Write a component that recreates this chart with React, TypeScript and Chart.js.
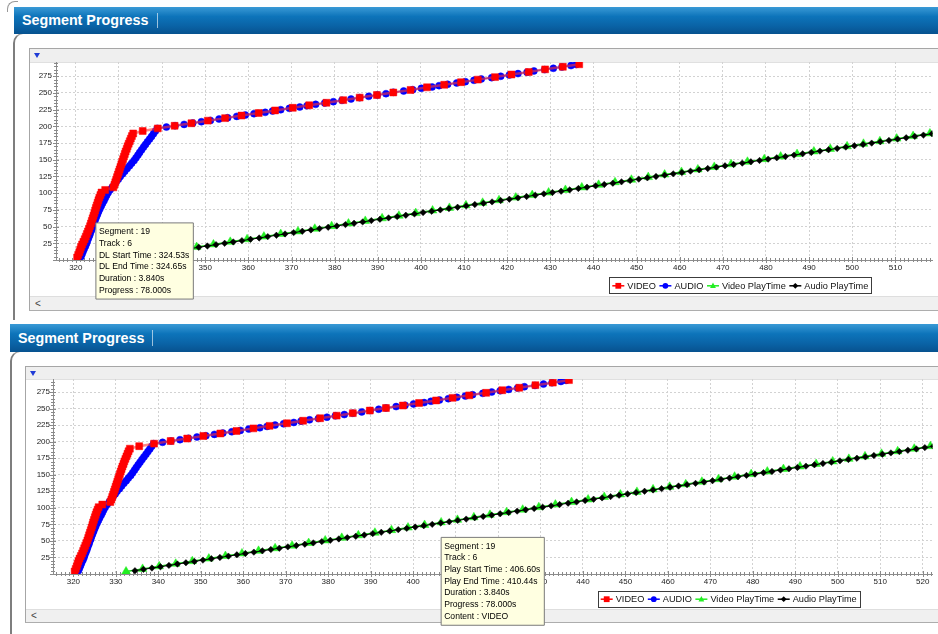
import React, { useEffect, useRef } from 'react';
import { Chart, registerables, Tooltip } from 'chart.js';

Chart.register(...registerables);

// ---------------- data ----------------
const SERIES_LABELS = ['VIDEO', 'AUDIO', 'Video PlayTime', 'Audio PlayTime'];

// video segment progress (s) per segment index
const VIDEO_PROGRESS = [
  3.8, 7.7, 11.6, 15.5, 19.4, 23.3, 27.2, 31.1, 35.0, 38.9, 42.8, 46.8, 50.7, 54.6, 58.5, 62.4, 66.3, 70.2, 74.1, 78.0,
  81.8, 85.7, 89.5, 93.4, 97.2, 101.0, 104.9, 108.7, 112.6, 116.4, 120.2, 124.1, 127.9, 131.8, 135.6, 139.4, 143.3,
  147.1, 151.0, 154.8, 158.6, 162.5, 166.3, 170.2, 174.0, 177.8, 181.7, 185.5, 189.4, 193.2, 197.0,
  200.9, 204.7, 208.6, 212.4, 216.2, 220.1, 223.9, 227.8, 231.6, 235.4, 239.3, 243.1, 247.0, 250.8, 254.6, 258.5,
  262.3, 266.2, 270.0, 273.8, 277.7, 281.5, 285.4, 289.2, 293.0,
];
// video download (end) time per segment
const VIDEO_DL_TIME = [
  320.3, 320.55, 320.8, 321.0, 321.2, 321.45, 321.75, 322.05, 322.3, 322.55, 322.8, 323.05, 323.3, 323.5, 323.7, 323.9,
  324.1, 324.3, 324.48, 324.65,
  324.85, 325.05, 325.25, 325.45, 325.7, 325.95, 326.8, 328.7, 328.95, 329.15, 329.35, 329.55, 329.75, 329.95, 330.15,
  330.35, 330.55, 330.75, 330.95, 331.15, 331.35, 331.55, 331.8, 332.0, 332.25, 332.5, 332.75, 333.0, 333.3, 335.5, 339.0,
  342.9, 346.8, 350.6, 354.6, 358.4, 362.4, 366.2, 370.3, 374.1, 378.1, 382.0, 385.8, 389.8, 393.6, 397.6, 401.4,
  405.4, 409.3, 413.2, 417.2, 421.0, 425.0, 428.8, 432.9, 436.7,
];
// video play start time per segment (progress as above)
const VIDEO_PLAY_TIME = [
  332.4, 336.3, 340.2, 344.1, 348.0, 351.9, 355.8, 359.7, 363.6, 367.5, 371.5, 375.4, 379.3, 383.2, 387.1, 391.0,
  394.9, 398.8, 402.7, 406.6,
  410.44, 414.3, 418.1, 422.0, 425.8, 429.6, 433.5, 437.3, 441.2, 445.0, 448.8, 452.7, 456.5, 460.4, 464.2, 468.0,
  471.9, 475.7, 479.6, 483.4, 487.2, 491.1, 494.9, 498.8, 502.6, 506.4, 510.3, 514.1, 518.0, 521.8, 525.6,
];
// audio download progress / time
const AUDIO_DL_PROGRESS = [
  5, 9, 13, 17, 21, 25, 29, 33, 37, 41, 45, 49, 53, 57, 61, 65, 69, 73, 77, 81, 85, 89, 93, 97, 101, 105, 109, 113,
  117, 121, 125, 129, 133, 137, 141, 145, 149, 153, 157, 161, 165, 169, 173, 177, 181, 185, 189, 193, 197,
  199, 201, 203, 205, 207, 209, 211, 213, 215, 217, 219, 221, 223, 225, 227, 229, 231, 233, 235, 237, 239, 241, 243,
  245, 247, 249, 251, 253, 255, 257, 259, 261, 263, 265, 267, 269, 271, 273, 275, 277, 279, 281, 283, 285, 287, 289,
  291, 292.6,
];
const AUDIO_DL_TIME = [
  321.2, 321.45, 321.7, 321.95, 322.25, 322.5, 322.7, 322.95, 323.2, 323.4, 323.65, 323.85, 324.1, 324.3, 324.55,
  324.8, 325.05, 325.3, 325.6, 325.9, 326.2, 326.55, 326.85, 327.15, 327.5, 327.95, 328.45, 328.9, 329.35, 329.85,
  330.3, 330.85, 331.35, 331.9, 332.45, 332.95, 333.5, 333.95, 334.4, 334.8, 335.25, 335.7, 336.15, 336.6, 337.1,
  337.55, 338.0, 338.45, 338.9,
  341.0, 343.0, 345.1, 347.1, 349.1, 351.2, 353.2, 355.2, 357.3, 359.3, 361.3, 363.9, 365.6, 367.5, 369.5, 371.9,
  373.6, 375.6, 377.7, 379.7, 381.7, 383.8, 385.8, 387.9, 389.9, 391.9, 393.6, 396.0, 398.1, 400.1, 402.6, 404.2,
  406.2, 408.3, 410.3, 412.3, 414.0, 416.4, 418.5, 420.5, 422.5, 424.6, 426.2, 428.7, 430.7, 432.7, 434.8, 436.0,
];
// audio play progress / time
const AUDIO_PLAY_PROGRESS = [
  5, 7, 9, 11, 13, 15, 17, 19, 21, 23, 25, 27, 29, 31, 33, 35, 37, 39, 41, 43, 45, 47, 49, 51, 53, 55, 57, 59, 61, 63,
  65, 67, 69, 71, 73, 75, 77, 79, 81, 83, 85, 87, 89, 91, 93, 95, 97, 99, 101, 103, 105, 107, 109, 111, 113, 115, 117,
  119, 121, 123, 125, 127, 129, 131, 133, 135, 137, 139, 141, 143, 145, 147, 149, 151, 153, 155, 157, 159, 161, 163,
  165, 167, 169, 171, 173, 175, 177, 179, 181, 183, 185, 187, 189, 191, 193, 195,
];
const AUDIO_PLAY_TIME = [
  334.5, 336.5, 338.5, 340.5, 342.5, 344.5, 346.5, 348.5, 350.5, 352.5, 354.5, 356.5, 358.5, 360.5, 362.5, 364.5,
  366.5, 368.5, 370.5, 372.5, 374.5, 376.5, 378.5, 380.5, 382.5, 384.5, 386.5, 388.5, 390.5, 392.5, 394.5, 396.5,
  398.5, 400.5, 402.5, 404.5, 406.5, 408.5, 410.5, 412.5, 414.5, 416.5, 418.5, 420.5, 422.5, 424.5, 426.5, 428.5,
  430.5, 432.5, 434.5, 436.5, 438.5, 440.5, 442.5, 444.5, 446.5, 448.5, 450.5, 452.5, 454.5, 456.5, 458.5, 460.5,
  462.5, 464.5, 466.5, 468.5, 470.5, 472.5, 474.5, 476.5, 478.5, 480.5, 482.5, 484.5, 486.5, 488.5, 490.5, 492.5,
  494.5, 496.5, 498.5, 500.5, 502.5, 504.5, 506.5, 508.5, 510.5, 512.5, 514.5, 516.5, 518.5, 520.5, 522.5, 524.5,
];

const X_TICK_STEP = 10;
const Y_TICK_STEP = 25;

// hovered segment (tooltip)
const HOVER_INDEX = 19;
const HOVER_TRACK = 6;
const HOVER_DL_START = 324.53;
const SEGMENT_DURATION = 3.84;

const TIP_DL = [
  `Segment : ${HOVER_INDEX}`,
  `Track : ${HOVER_TRACK}`,
  `DL Start Time : ${HOVER_DL_START.toFixed(2)}s`,
  `DL End Time : ${VIDEO_DL_TIME[HOVER_INDEX].toFixed(2)}s`,
  `Duration : ${SEGMENT_DURATION.toFixed(3)}s`,
  `Progress : ${VIDEO_PROGRESS[HOVER_INDEX].toFixed(3)}s`,
];
const TIP_PLAY = [
  `Segment : ${HOVER_INDEX}`,
  `Track : ${HOVER_TRACK}`,
  `Play Start Time : ${VIDEO_PLAY_TIME[HOVER_INDEX].toFixed(2)}s`,
  `Play End Time : ${(VIDEO_PLAY_TIME[HOVER_INDEX] + SEGMENT_DURATION).toFixed(2)}s`,
  `Duration : ${SEGMENT_DURATION.toFixed(3)}s`,
  `Progress : ${VIDEO_PROGRESS[HOVER_INDEX].toFixed(3)}s`,
  `Content : VIDEO`,
];

// ---------------- styles ----------------
const FONT = '"Liberation Sans", Arial, sans-serif';
const SERIES_COLORS = ['#ff0000', '#0000ff', '#22ee22', '#000000'];
const SERIES_STYLES = ['rect', 'circle', 'triangle', 'rectRot'];

(Tooltip as any).positioners.belowPoint = function (items: any[]) {
  if (!items.length) return false;
  const el = items[0].element;
  return { x: el.x, y: el.y + 15 };
};

function drawMarker(ctx: CanvasRenderingContext2D, style: string, x: number, y: number, r: number, color: string) {
  ctx.fillStyle = color;
  ctx.beginPath();
  if (style === 'rect') ctx.rect(x - r, y - r, 2 * r, 2 * r);
  else if (style === 'circle') ctx.arc(x, y, r, 0, Math.PI * 2);
  else if (style === 'triangle') {
    ctx.moveTo(x, y - r * 1.1);
    ctx.lineTo(x + r, y + r * 0.8);
    ctx.lineTo(x - r, y + r * 0.8);
    ctx.closePath();
  } else {
    ctx.moveTo(x, y - r);
    ctx.lineTo(x + r, y);
    ctx.lineTo(x, y + r);
    ctx.lineTo(x - r, y);
    ctx.closePath();
  }
  ctx.fill();
}

const boxLegendPlugin = {
  id: 'boxLegend',
  afterDatasetsDraw(chart: any, _args: any, opts: any) {
    const { ctx } = chart;
    const { left, top, height } = opts;
    ctx.save();
    ctx.font = `9.2px ${FONT}`;
    const widths = SERIES_LABELS.map((t) => ctx.measureText(t).width);
    let w = 3;
    widths.forEach((tw: number) => (w += 15 + tw + 3.5));
    ctx.fillStyle = '#ffffff';
    ctx.fillRect(left, top, w, height);
    ctx.strokeStyle = '#3c3c3c';
    ctx.lineWidth = 1;
    ctx.strokeRect(Math.round(left) + 0.5, Math.round(top) + 0.5, Math.round(w) - 1, height - 1);
    const cy = top + height / 2;
    let x = left + 3;
    SERIES_LABELS.forEach((label, i) => {
      ctx.strokeStyle = SERIES_COLORS[i];
      ctx.lineWidth = 1.5;
      ctx.beginPath();
      ctx.moveTo(x, cy);
      ctx.lineTo(x + 12, cy);
      ctx.stroke();
      drawMarker(ctx, SERIES_STYLES[i], x + 6, cy, 2.9, SERIES_COLORS[i]);
      ctx.fillStyle = '#111';
      ctx.textBaseline = 'middle';
      ctx.textAlign = 'left';
      ctx.fillText(label, x + 15, cy + 0.5);
      x += 15 + widths[i] + 3.5;
    });
    ctx.restore();
  },
};

const axisTicksPlugin = {
  id: 'axisTicks',
  beforeDatasetsDraw(chart: any) {
    const { ctx, chartArea } = chart;
    const xs = chart.scales.x;
    const ys = chart.scales.y;
    ctx.save();
    ctx.strokeStyle = '#8a8a8a';
    ctx.lineWidth = 1;
    ctx.beginPath();
    for (let v = Math.ceil(xs.min); v <= xs.max; v += 1) {
      const px = Math.round(xs.getPixelForValue(v)) + 0.5;
      const len = v % X_TICK_STEP === 0 ? 3 : 2;
      ctx.moveTo(px, chartArea.bottom - len);
      ctx.lineTo(px, chartArea.bottom + len);
    }
    for (let v = 0; v <= ys.max; v += 5) {
      const py = Math.round(ys.getPixelForValue(v)) + 0.5;
      const len = v % Y_TICK_STEP === 0 ? 3 : 2;
      ctx.moveTo(chartArea.left - len, py);
      ctx.lineTo(chartArea.left + len, py);
    }
    ctx.stroke();
    ctx.restore();
  },
};

type PanelCfg = {
  left: number; top: number; width: number; height: number;
  yAxisWidth: number; xAxisHeight: number; padTop: number;
  xMin: number; xMax: number; yMax: number; yLabelPad: number;
  legendLeft: number; legendTop: number;
  hoverDataset: number; tipLines: string[];
};

const PANELS: PanelCfg[] = [
  {
    left: 30, top: 49, width: 908, height: 261, yAxisWidth: 26, xAxisHeight: 50, padTop: 13,
    xMin: 315.4, xMax: 518.6, yMax: 296.4, yLabelPad: 4, legendLeft: 579.3, legendTop: 228.3,
    hoverDataset: 0, tipLines: TIP_DL,
  },
  {
    left: 26, top: 367, width: 912, height: 267, yAxisWidth: 27, xAxisHeight: 60, padTop: 12,
    xMin: 315.2, xMax: 522.3, yMax: 294.7, yLabelPad: 3, legendLeft: 571.7, legendTop: 223.7,
    hoverDataset: 2, tipLines: TIP_PLAY,
  },
];

function pairs(xs: number[], ys: number[]) {
  const n = Math.min(xs.length, ys.length);
  const out: { x: number; y: number }[] = [];
  for (let i = 0; i < n; i++) out.push({ x: xs[i], y: ys[i] });
  return out;
}

function buildConfig(cfg: PanelCfg): any {
  const tickFont = { family: FONT, size: 8 };
  const grid = { color: '#d2d2d2', lineWidth: 1, drawTicks: false };
  const border = { display: true, color: '#8c8c8c', width: 1, dash: [2, 2] };
  return {
    type: 'line',
    data: {
      datasets: [
        {
          label: SERIES_LABELS[0],
          data: pairs(VIDEO_DL_TIME, VIDEO_PROGRESS),
          borderColor: 'rgba(255,50,50,0.6)', borderWidth: 2.5,
          pointStyle: 'rect', pointRadius: 4.9, pointBackgroundColor: SERIES_COLORS[0],
          pointBorderColor: SERIES_COLORS[0], pointBorderWidth: 0.5, order: 0,
        },
        {
          label: SERIES_LABELS[1],
          data: pairs(AUDIO_DL_TIME, AUDIO_DL_PROGRESS),
          borderColor: 'rgba(40,40,255,0.8)', borderWidth: 1.5,
          pointStyle: 'circle', pointRadius: 3.5, pointBackgroundColor: SERIES_COLORS[1],
          pointBorderColor: SERIES_COLORS[1], pointBorderWidth: 0.5, order: 1,
        },
        {
          label: SERIES_LABELS[2],
          data: pairs(VIDEO_PLAY_TIME, VIDEO_PROGRESS),
          borderColor: '#1fd81f', borderWidth: 1.5,
          pointStyle: 'triangle', pointRadius: 5, pointBackgroundColor: SERIES_COLORS[2],
          pointBorderColor: SERIES_COLORS[2], pointBorderWidth: 0.5, order: 3,
        },
        {
          label: SERIES_LABELS[3],
          data: pairs(AUDIO_PLAY_TIME, AUDIO_PLAY_PROGRESS),
          borderColor: '#000000', borderWidth: 1,
          pointStyle: 'rectRot', pointRadius: 3.2, pointBackgroundColor: SERIES_COLORS[3],
          pointBorderColor: SERIES_COLORS[3], pointBorderWidth: 0.5, order: 2,
        },
      ],
    },
    options: {
      responsive: false,
      animation: false,
      devicePixelRatio: 1,
      events: [],
      layout: { padding: { top: cfg.padTop, left: 0, right: 0, bottom: 0 } },
      scales: {
        x: {
          type: 'linear', position: 'bottom', min: cfg.xMin, max: cfg.xMax,
          ticks: {
            stepSize: X_TICK_STEP, includeBounds: false, maxRotation: 0, autoSkip: false, padding: 3,
            color: '#222', font: tickFont, callback: (v: number) => String(v),
          },
          grid, border,
          afterFit: (s: any) => { s.height = cfg.xAxisHeight; s.paddingLeft = 0; s.paddingRight = 0; },
        },
        y: {
          type: 'linear', position: 'left', min: 0, max: cfg.yMax,
          ticks: {
            stepSize: Y_TICK_STEP, includeBounds: false, padding: cfg.yLabelPad,
            color: '#222', font: tickFont, callback: (v: number) => (v === 0 ? '' : String(v)),
          },
          grid, border,
          afterFit: (s: any) => { s.width = cfg.yAxisWidth; s.paddingTop = 0; s.paddingBottom = 0; },
        },
      },
      plugins: {
        legend: { display: false },
        title: { display: false },
        boxLegend: { left: cfg.legendLeft, top: cfg.legendTop, height: 17 },
        tooltip: {
          enabled: true,
          position: 'belowPoint',
          xAlign: 'left', yAlign: 'top',
          backgroundColor: '#ffffe1',
          borderColor: '#7a7a7a', borderWidth: 1,
          cornerRadius: 0, caretSize: 0, caretPadding: 0,
          displayColors: false,
          padding: { left: 3, right: 4, top: 3, bottom: 3 },
          bodyColor: '#000',
          bodyFont: { family: FONT, size: 8.6, lineHeight: 1.36 },
          bodySpacing: 0,
          titleMarginBottom: 0,
          callbacks: { title: () => [], label: () => cfg.tipLines },
        },
      },
    },
    plugins: [axisTicksPlugin, boxLegendPlugin],
  };
}

function ChartCanvas({ cfg }: { cfg: PanelCfg }) {
  const ref = useRef<HTMLCanvasElement>(null);
  useEffect(() => {
    const chart = new Chart(ref.current as HTMLCanvasElement, buildConfig(cfg));
    if (chart.tooltip) {
      chart.tooltip.setActiveElements([{ datasetIndex: cfg.hoverDataset, index: HOVER_INDEX }], { x: 0, y: 0 });
    }
    chart.update();
    return () => chart.destroy();
  }, [cfg]);
  return (
    <canvas
      ref={ref}
      width={cfg.width}
      height={cfg.height}
      style={{ position: 'absolute', left: cfg.left, top: cfg.top, width: cfg.width, height: cfg.height }}
    />
  );
}

function Header({ left, top, width, height, sepX }: { left: number; top: number; width: number; height: number; sepX: number }) {
  return (
    <div
      style={{
        position: 'absolute', left, top, width, height,
        background: 'linear-gradient(to bottom, #3a9ad6 0%, #0d74ba 35%, #0a63a6 70%, #07528f 100%)',
      }}
    >
      <div
        style={{
          position: 'absolute', left: 8, top: 0, height, color: '#fff',
          fontFamily: FONT, fontWeight: 'bold', fontSize: 14.3, lineHeight: `${height}px`, whiteSpace: 'nowrap',
        }}
      >
        Segment Progress
      </div>
      <div style={{ position: 'absolute', left: sepX, top: 6, width: 1, height: height - 12, background: 'rgba(255,255,255,0.6)' }} />
    </div>
  );
}

function Frame({ outerLeft, outerTop, outerHeight, boxLeft, boxTop, boxHeight, stripH, scrollTop, scrollH, triLeft, triTop }: any) {
  return (
    <>
      <div
        style={{
          position: 'absolute', left: outerLeft, top: outerTop, width: 1000, height: outerHeight,
          borderLeft: '2px solid #7e7e7e', borderTop: '1px solid #9a9a9a', borderTopLeftRadius: 10, background: '#fff',
        }}
      />
      <div
        style={{
          position: 'absolute', left: boxLeft, top: boxTop, width: 1000, height: boxHeight,
          border: '1px solid #a6a6a6', borderBottom: '2px solid #adadad', background: '#fff', boxSizing: 'border-box',
        }}
      >
        <div style={{ position: 'absolute', left: 0, top: 0, right: 0, height: stripH, background: '#efefef', borderBottom: '1px solid #e0e0e0' }} />
        <div style={{ position: 'absolute', left: 0, top: scrollTop, right: 0, height: scrollH, background: '#f0f0f0', borderTop: '1px solid #dedede' }}>
          <div style={{ position: 'absolute', left: 5, top: 0, fontFamily: FONT, fontSize: 10, color: '#444', lineHeight: `${scrollH}px` }}>&lt;</div>
        </div>
      </div>
      <div
        style={{
          position: 'absolute', left: triLeft, top: triTop, width: 0, height: 0,
          borderLeft: '3.5px solid transparent', borderRight: '3.5px solid transparent', borderTop: '5px solid #1f3bd6',
        }}
      />
    </>
  );
}

export default function App() {
  return (
    <div style={{ position: 'absolute', left: 0, top: 0, width: 938, height: 634, overflow: 'hidden', background: '#fff', fontFamily: FONT }}>
      {/* decorative arc at top-left */}
      <div style={{ position: 'absolute', left: 7, top: 1, width: 10, height: 10, borderLeft: '1px solid #999', borderTop: '1px solid #999', borderTopLeftRadius: 8 }} />

      {/* panel 1 */}
      <Frame outerLeft={13} outerTop={33} outerHeight={286} boxLeft={29} boxTop={48} boxHeight={263} stripH={13} scrollTop={247} scrollH={13} triLeft={34} triTop={53} />
      <Header left={14} top={7} width={924} height={27} sepX={143} />
      <ChartCanvas cfg={PANELS[0]} />

      {/* panel 2 */}
      <Frame outerLeft={10} outerTop={351} outerHeight={300} boxLeft={25} boxTop={366} boxHeight={257} stripH={12} scrollTop={242} scrollH={12} triLeft={30} triTop={371} />
      <Header left={10} top={324} width={928} height={28} sepX={142} />
      <ChartCanvas cfg={PANELS[1]} />
    </div>
  );
}
